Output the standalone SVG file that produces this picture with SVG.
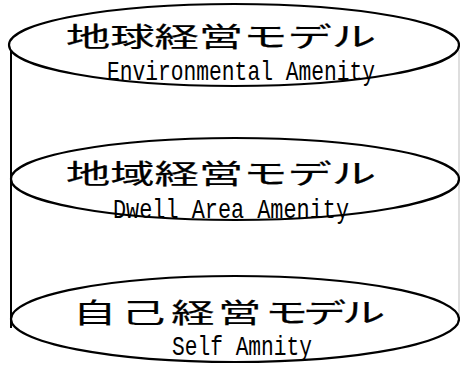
<svg xmlns="http://www.w3.org/2000/svg" width="460" height="367" viewBox="0 0 460 367">
<style>
.ell{fill:none;stroke:#000;stroke-width:2.2}
.side{stroke:#000;stroke-width:2}
.sideR{stroke:#c8c8c8;stroke-width:1.2}
.jp{font-family:"Noto Sans CJK JP","Noto Sans CJK SC",sans-serif;font-size:27px;fill:#000;stroke:#000;stroke-width:0.2}
.en{font-family:"Liberation Mono","DejaVu Sans Mono",monospace;font-size:28px;fill:#000}
</style>
<rect width="460" height="367" fill="#fff"/>
<g id="connectors">
<line class="side" x1="11" y1="50" x2="11" y2="328"/>
<line class="sideR" x1="459" y1="50" x2="459" y2="316"/>
</g>
<g id="global">
<ellipse class="ell" cx="234" cy="45" rx="225" ry="41"/>
<text class="jp" x="66" y="47" textLength="310" lengthAdjust="spacingAndGlyphs">地球経営モデル</text>
<text class="en" x="107" y="80" textLength="268" lengthAdjust="spacingAndGlyphs">Environmental Amenity</text>
</g>
<g id="area">
<ellipse class="ell" cx="235" cy="179" rx="224" ry="41"/>
<text class="jp" x="66" y="184" textLength="310" lengthAdjust="spacingAndGlyphs">地域経営モデル</text>
<text class="en" x="113" y="218" textLength="236" lengthAdjust="spacingAndGlyphs">Dwell Area Amenity</text>
</g>
<g id="self">
<ellipse class="ell" cx="235" cy="319" rx="224" ry="43"/>
<text class="jp" transform="translate(0,323) scale(1.6,1)" x="45.6 76.3 107 136.3 165.6 189.4 213.8" y="0">自己経営モデル</text>
<text class="en" x="172" y="355" textLength="140" lengthAdjust="spacingAndGlyphs">Self Amnity</text>
</g>
</svg>
